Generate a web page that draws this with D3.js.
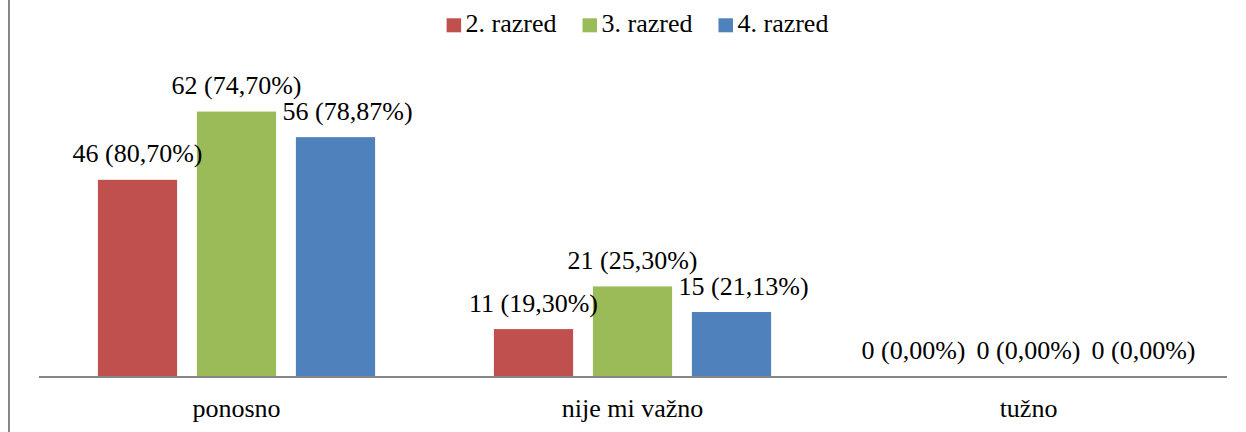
<!DOCTYPE html>
<html>
<head>
<meta charset="utf-8">
<script src="https://cdn.jsdelivr.net/npm/d3@7"></script>
</head>
<body style="margin:0;background:#fff">
<svg id="chart" width="1246" height="432" style="display:block"></svg>
<script>
// answers per grade, count and share of the grade
const categories = ["ponosno", "nije mi važno", "tužno"];
const series = ["2. razred", "3. razred", "4. razred"];
const colors = ["#C0504D", "#9BBB59", "#4F81BD"];
const counts = [
  [46, 11, 0],   // 2. razred
  [62, 21, 0],   // 3. razred
  [56, 15, 0]    // 4. razred
];
const percents = [
  [80.70, 19.30, 0.00],
  [74.70, 25.30, 0.00],
  [78.87, 21.13, 0.00]
];

const svg = d3.select("#chart");
const font = "\"Liberation Serif\", serif";
const fs = 26;
const baseY = 376;

const x0 = d3.scaleBand().domain(categories).range([38.5, 1226.5]).padding(0);
const x1 = d3.scaleBand().domain(series).range([0, x0.bandwidth()])
  .paddingInner(0.2).paddingOuter(0.6);
const y = d3.scaleLinear().domain([0, 70]).range([baseY, baseY - 70 * 4.265]);

// left frame edge
svg.append("line")
  .attr("x1", 9).attr("x2", 9).attr("y1", 0).attr("y2", 432)
  .attr("stroke", "#868686").attr("stroke-width", 2);

// flatten into one record per bar
const bars = [];
categories.forEach((c, ci) => {
  series.forEach((s, si) => {
    bars.push({ c, ci, s, si, v: counts[si][ci], p: percents[si][ci] });
  });
});

svg.append("g").selectAll("rect")
  .data(bars)
  .enter()
  .append("rect")
  .attr("x", d => x0(d.c) + x1(d.s))
  .attr("y", d => y(d.v))
  .attr("width", x1.bandwidth())
  .attr("height", d => baseY - y(d.v))
  .attr("fill", d => colors[d.si]);

// x axis
const axis = svg.append("g")
  .attr("transform", `translate(0,${baseY + 0.5})`)
  .call(d3.axisBottom(x0).tickSize(0).tickSizeOuter(0).tickPadding(22));
axis.select(".domain").attr("stroke", "#868686").attr("stroke-width", 2);
axis.selectAll("text")
  .style("font-family", font)
  .style("font-size", fs + "px")
  .attr("fill", "#000");

// value labels
const fmt = d => `${d.v} (${d.p.toFixed(2).replace(".", ",")}%)`;
const labels = svg.append("g")
  .selectAll("text")
  .data(bars)
  .enter()
  .append("text")
  .attr("text-anchor", "middle")
  .style("font-family", font)
  .style("font-size", fs + "px")
  .attr("fill", "#000")
  .text(fmt);

labels.each(function (d) {
  d.w = this.getComputedTextLength();
  d.cx = x0(d.c) + x1(d.s) + x1.bandwidth() / 2;
  d.by = y(d.v) - 17.5;
});

// push a label clear of the bar to its left when they collide
bars.forEach(d => {
  if (d.si === 0) return;
  const prev = bars.find(b => b.ci === d.ci && b.si === d.si - 1);
  const prevRight = x0(prev.c) + x1(prev.s) + x1.bandwidth();
  const left = d.cx - d.w / 2;
  if (d.by + 0.2 * fs > y(prev.v) && left < prevRight + 6) {
    d.cx += prevRight + 6.5 - left;
  }
});

// spread labels that sit on the same line and overlap
const gap = 11;
categories.forEach((c, ci) => {
  const row = bars.filter(b => b.ci === ci).sort((a, b) => a.cx - b.cx);
  let cluster = [row[0]];
  const flush = () => {
    if (cluster.length > 1) {
      const mid = d3.mean(cluster, b => b.cx);
      const total = d3.sum(cluster, b => b.w) + gap * (cluster.length - 1);
      let xx = mid - total / 2;
      cluster.forEach(b => { b.cx = xx + b.w / 2; xx += b.w + gap; });
    }
  };
  for (let i = 1; i < row.length; i++) {
    const a = cluster[cluster.length - 1], b = row[i];
    const overlapX = b.cx - b.w / 2 < a.cx + a.w / 2 + gap;
    const overlapY = Math.abs(a.by - b.by) < fs * 0.9;
    if (overlapX && overlapY) cluster.push(b);
    else { flush(); cluster = [b]; }
  }
  flush();
});

labels.attr("x", d => d.cx).attr("y", d => d.by);

// legend
const legend = svg.append("g");
const items = legend.selectAll("g")
  .data(series)
  .enter()
  .append("g");
items.append("rect")
  .attr("width", 14.5).attr("height", 14)
  .attr("y", 18.3)
  .attr("fill", (d, i) => colors[i]);
items.append("text")
  .attr("x", 19)
  .attr("y", 32)
  .style("font-family", font)
  .style("font-size", fs + "px")
  .attr("fill", "#000")
  .text(d => d);
let lx = 0;
items.each(function () {
  const w = this.getBBox().width;
  d3.select(this).attr("transform", `translate(${lx},0)`);
  lx += w + 26;
});
const legendW = lx - 26;
legend.attr("transform", `translate(${637.5 - legendW / 2},0)`);
</script>
</body>
</html>
